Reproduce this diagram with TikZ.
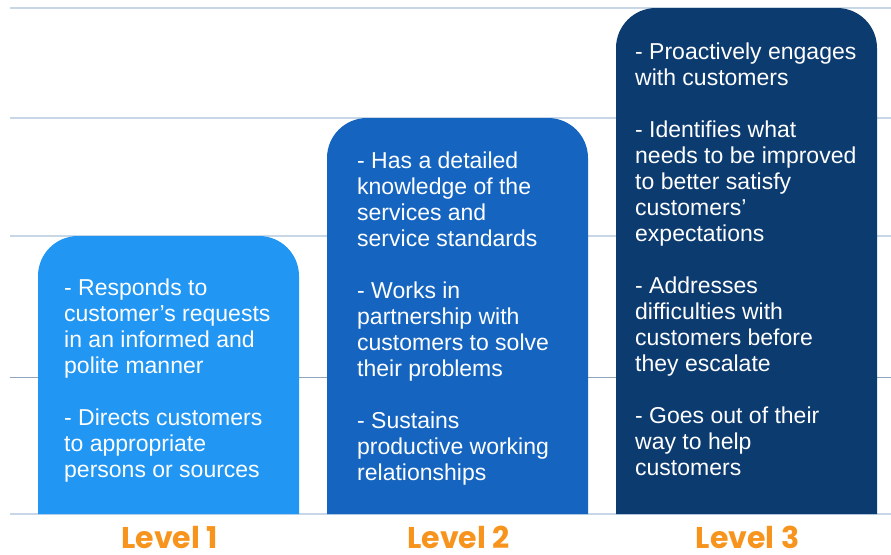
\documentclass[tikz,border=0pt]{standalone}
\usepackage{fontspec}
\setmainfont{Liberation Sans}
\newfontfamily\levelfont{Poppins}
\definecolor{levelone}{HTML}{2196F3}
\definecolor{leveltwo}{HTML}{1565C0}
\definecolor{levelthree}{HTML}{0C3B70}
\definecolor{gridlight}{HTML}{C8D7E7}
\definecolor{griddark}{HTML}{8FA5BD}
\definecolor{labelorange}{HTML}{F7941D}
\tikzset{
  gridline/.style={gridlight, line width=2pt},
  midline/.style={griddark, line width=1pt},
  bar/.style={rounded corners=40pt},
  bullets/.style={anchor=north west, inner sep=0pt, align=left, text=white,
    font=\fontsize{23}{26}\selectfont},
  levellabel/.style={anchor=base, inner sep=0pt, text=labelorange,
    font=\levelfont\bfseries\fontsize{30}{31}\selectfont}
}
\newcommand{\firststrut}{\rule{0pt}{18pt}}
\begin{document}
\begin{tikzpicture}[x=1pt, y=-1pt]
  \useasboundingbox (0,0) rectangle (891,554);
  % horizontal guide lines behind the bars
  \draw[gridline] (10,8) -- (891,8);
  \draw[gridline] (10,118) -- (891,118);
  \draw[gridline] (10,236) -- (891,236);
  \draw[midline] (10,377) -- (891,377);
  \draw[gridline] (10,514) -- (891,514);
  % bars with rounded tops
  \fill[levelone] (38,514) [bar] -- (38,236) -- (299,236) [sharp corners] -- (299,514) -- cycle;
  \fill[leveltwo] (327,514) [bar] -- (327,118) -- (588,118) [sharp corners] -- (588,514) -- cycle;
  \fill[levelthree] (616,514) [bar] -- (616,8) -- (877,8) [sharp corners] -- (877,514) -- cycle;
  % competencies
  \node[bullets] (one) at (64,277) {\firststrut- Responds to\\
    customer’s requests\\
    in an informed and\\
    polite manner\\[26pt]
    - Directs customers\\
    to appropriate\\
    persons or sources};
  \node[bullets] (two) at (357,150) {\firststrut- Has a detailed\\
    knowledge of the\\
    services and\\
    service standards\\[26pt]
    - Works in\\
    partnership with\\
    customers to solve\\
    their problems\\[26pt]
    - Sustains\\
    productive working\\
    relationships};
  \node[bullets] (three) at (635,41) {\firststrut- Proactively engages\\
    with customers\\[26pt]
    - Identifies what\\
    needs to be improved\\
    to better satisfy\\
    customers’\\
    expectations\\[26pt]
    - Addresses\\
    difficulties with\\
    customers before\\
    they escalate\\[26pt]
    - Goes out of their\\
    way to help\\
    customers};
  % level captions
  \node[levellabel] (l1) at (169.5,548) {Level 1};
  \node[levellabel] (l2) at (458.5,548) {Level 2};
  \node[levellabel] (l3) at (747.5,548) {Level 3};
\end{tikzpicture}
\end{document}
